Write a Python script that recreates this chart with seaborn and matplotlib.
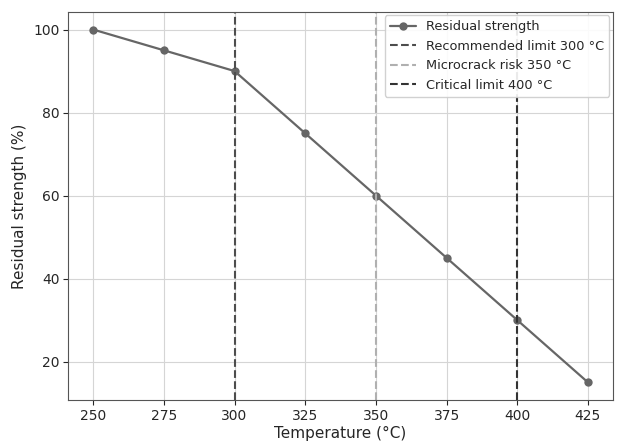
import seaborn as sns
import numpy as np
import pandas as pd
import matplotlib.pyplot as plt

temps = [250, 275, 300, 325, 350, 375, 400, 425]
strength = [100, 95, 90, 75, 60, 45, 30, 15]

limit_temps = [300, 350, 400]
limit_labels = ['Recommended limit 300 °C', 'Microcrack risk 350 °C', 'Critical limit 400 °C']
limit_colors = ['#4d4d4d', '#b0b0b0', '#333333']

sns.set_style('ticks', {'axes.grid': True, 'grid.color': '#d5d5d5',
                        'axes.edgecolor': '#555555'})

df = pd.DataFrame({'Temperature': temps, 'Strength': strength})

fig, ax = plt.subplots(figsize=(6.22, 4.41), dpi=100)
sns.lineplot(data=df, x='Temperature', y='Strength', marker='o', color='#666666',
             linewidth=1.6, markersize=6, markeredgewidth=0, label='Residual strength', ax=ax)

for t, lab, c in zip(limit_temps, limit_labels, limit_colors):
    ax.axvline(t, color=c, linestyle='--', linewidth=1.5, label=lab)

ax.set_xticks(temps)
ax.set_xlabel('Temperature (°C)', fontsize=11, labelpad=2)
ax.set_ylabel('Residual strength (%)', fontsize=11)
ax.tick_params(labelsize=10, pad=3)
ax.legend(loc='upper right', fontsize=9.3, framealpha=0.9, borderaxespad=0.25)

fig.subplots_adjust(left=0.11, right=0.985, top=0.973, bottom=0.093)
plt.savefig('out.png', dpi=100)
